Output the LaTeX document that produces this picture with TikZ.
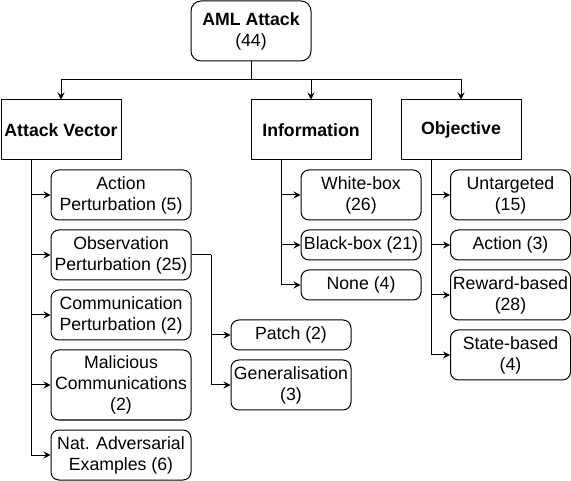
\documentclass[tikz,border=0pt]{standalone}
\usepackage{fontspec}
\setmainfont{Liberation Sans}
\usetikzlibrary{arrows.meta}
\begin{document}
\begin{tikzpicture}[x=1pt,y=-1pt,
  base/.style={draw, line width=1pt, align=center, inner sep=0pt,
    font=\fontsize{17.7}{21}\selectfont},
  box/.style={base, rounded corners=8pt},
  head/.style={base, minimum width=120pt, minimum height=60pt, font=\fontsize{17.7}{21}\selectfont\bfseries},
  wide/.style={box, minimum width=140pt},
  norm/.style={box, minimum width=120pt},
  link/.style={line width=1pt},
  arr/.style={link, -{Stealth[length=7pt,width=7pt,inset=2.5pt]}}]
\useasboundingbox (0,0) rectangle (571,481);
% top
\node[box, rounded corners=10pt, minimum width=120pt, minimum height=60pt] (aml) at (251,31) {\textbf{AML Attack}\\(44)};
\node[head] (av) at (61,130) {Attack Vector};
\node[head] (info) at (311,130) {Information};
\node[head] (obj) at (461,130) {Objective};
\coordinate (j) at (251,80);
\draw[link] (aml.south) -- (j);
\draw[arr] (j) -| (av.north);
\draw[arr] (j) -| (info.north);
\draw[arr] (j) -| (obj.north);
% attack vector children
\node[wide, minimum height=50pt] (ap) at (121,195) {Action\\Perturbation (5)};
\node[wide, minimum height=50pt] (op) at (121,255) {Observation\\Perturbation (25)};
\node[wide, minimum height=50pt] (cp) at (121,315) {Communication\\Perturbation (2)};
\node[wide, minimum height=70pt] (mc) at (121,385) {Malicious\\Communications\\(2)};
\node[wide, minimum height=50pt] (na) at (121,455) {Nat. Adversarial\\Examples (6)};
\coordinate (avt) at (31,160);
\foreach \n in {ap,op,cp,mc,na} \draw[arr] (avt) |- (\n.west);
% observation children
\node[norm, minimum height=30pt] (patch) at (291,335) {Patch (2)};
\node[norm, minimum height=50pt] (gen) at (291,385) {Generalisation\\(3)};
\coordinate (ob) at (211,255);
\draw[link] (op.east) -- (ob);
\draw[arr] (ob) |- (patch.west);
\draw[arr] (ob) |- (gen.west);
% information children
\node[norm, minimum height=50pt] (wb) at (361,195) {White-box\\(26)};
\node[norm, minimum height=30pt] (bb) at (361,245) {Black-box (21)};
\node[norm, minimum height=30pt] (none) at (361,285) {None (4)};
\coordinate (it) at (281,160);
\foreach \n in {wb,bb,none} \draw[arr] (it) |- (\n.west);
% objective children
\node[norm, minimum height=50pt] (unt) at (510.5,195) {Untargeted\\(15)};
\node[norm, minimum height=30pt] (act) at (510.5,245) {Action (3)};
\node[norm, minimum height=50pt] (rew) at (510.5,295) {Reward-based\\(28)};
\node[norm, minimum height=50pt] (st) at (510.5,355) {State-based\\(4)};
\coordinate (ot) at (431,160);
\foreach \n in {unt,act,rew,st} \draw[arr] (ot) |- (\n.west);
\end{tikzpicture}
\end{document}
